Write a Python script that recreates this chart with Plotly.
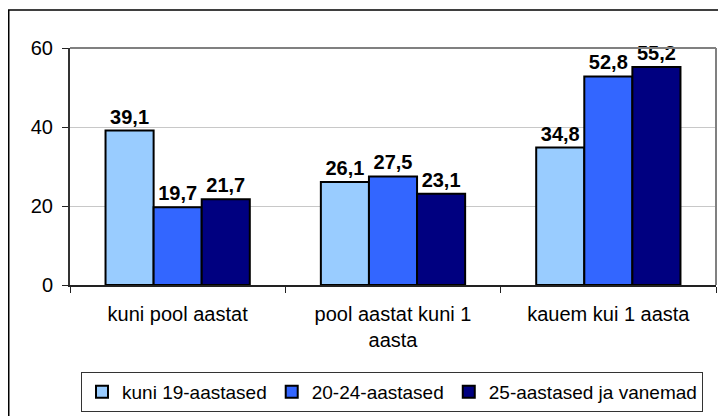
import plotly.graph_objects as go

categories = ["kuni pool aastat", "pool aastat kuni 1<br>aasta", "kauem kui 1 aasta"]
series_names = ["kuni 19-aastased", "20-24-aastased", "25-aastased ja vanemad"]
values_19 = [39.1, 26.1, 34.8]
values_20_24 = [19.7, 27.5, 52.8]
values_25 = [21.7, 23.1, 55.2]
colors = ["#99CCFF", "#3366FF", "#000080"]
y_ticks = [0, 20, 40, 60]

FONT = "Liberation Sans, Arial, sans-serif"

fig = go.Figure()
for name, vals, col in zip(series_names, [values_19, values_20_24, values_25], colors):
    fig.add_trace(go.Bar(
        x=categories, y=vals, name=name,
        marker=dict(color=col, line=dict(color="black", width=2)),
        text=[f"{v:.1f}".replace(".", ",") for v in vals],
        textposition="outside",
        textfont=dict(family=FONT, size=20, color="black", weight="bold"),
        cliponaxis=False,
    ))

# page body has an 8px margin, so the figure is 8px smaller than the window
W, H = 718, 408
ml, mr, mt, mb = 62, 10, 40, 131
pw, ph = W - ml - mr, H - mt - mb

fig.update_layout(
    width=W, height=H,
    margin=dict(l=ml, r=mr, t=mt, b=mb, autoexpand=False),
    paper_bgcolor="white", plot_bgcolor="white",
    barmode="group", bargap=0.33, bargroupgap=0,
    font=dict(family=FONT, size=20, color="black"),
    showlegend=True,
    legend=dict(
        orientation="h", x=(73 - ml) / pw, y=-(404 - (mt + ph)) / ph,
        xanchor="left", yanchor="bottom",
        bordercolor="#333333", borderwidth=1,
        font=dict(family=FONT, size=19, color="black"),
        itemwidth=30, tracegroupgap=0,
    ),
    xaxis=dict(
        range=[-0.5, 2.5], tickson="boundaries", ticks="outside", ticklen=6,
        tickcolor="#222222", showline=True, linecolor="#222222", linewidth=2,
        showgrid=False, tickfont=dict(size=20), ticklabelstandoff=10,
    ),
    yaxis=dict(
        range=[0, 60], tickvals=y_ticks, ticks="outside", ticklen=6,
        tickcolor="#222222", showline=True, linecolor="#333333", linewidth=2,
        showgrid=True, gridcolor="#C8C8C8", gridwidth=1, zeroline=False,
        tickfont=dict(size=20), ticklabelstandoff=5,
    ),
    shapes=[
        dict(type="line", xref="paper", yref="paper", x0=0, x1=1, y0=1, y1=1,
             line=dict(color="#808080", width=2)),
        dict(type="line", xref="paper", yref="paper", x0=1, x1=1, y0=0, y1=1,
             line=dict(color="#808080", width=2)),
        dict(type="rect", xref="paper", yref="paper",
             x0=(0.75 - ml) / pw, x1=1 + 30 / pw,
             y0=-(mb + 20) / ph, y1=1 + (mt - 2) / ph,
             line=dict(color="black", width=1.5), layer="below"),
    ],
)

fig.write_html("out.html")
